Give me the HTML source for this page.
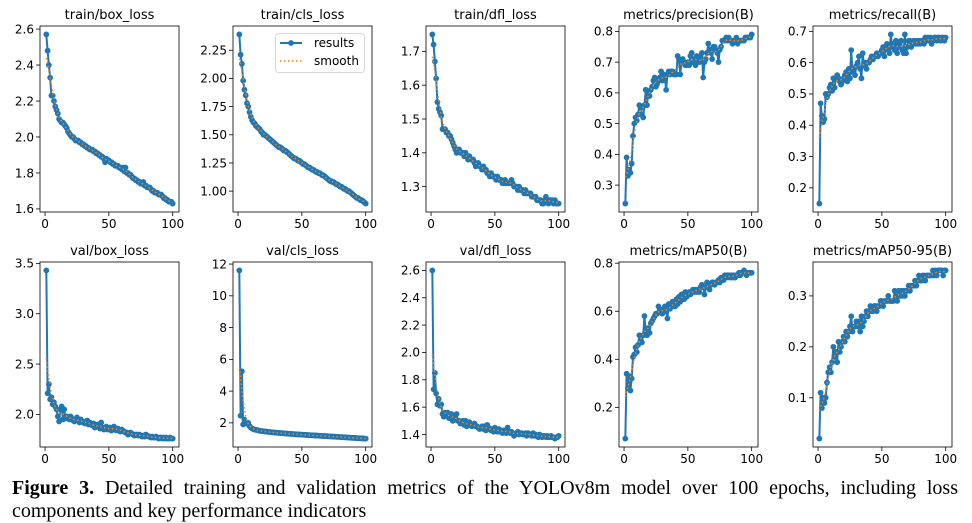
<!DOCTYPE html>
<html><head><meta charset="utf-8">
<style>
body{margin:0;background:#fff;width:972px;height:523px;overflow:hidden;position:relative}
svg{position:absolute;left:0;top:0}
#cap{position:absolute;left:12px;top:477px;width:946px;font-family:"Liberation Serif",serif;font-size:20px;line-height:23px;text-align:justify;text-align-last:left;color:#000}
</style></head><body>
<svg id="fig" width="972" height="470"></svg>
<div id="cap"><b>Figure 3.</b> Detailed training and validation metrics of the YOLOv8m model over 100 epochs, including loss components and key performance indicators</div>
<script>
const titles=["train/box_loss","train/cls_loss","train/dfl_loss","metrics/precision(B)","metrics/recall(B)","val/box_loss","val/cls_loss","val/dfl_loss","metrics/mAP50(B)","metrics/mAP50-95(B)"];
const trainBox=[2.57,2.48,2.40,2.33,2.23,2.23,2.20,2.17,2.15,2.13,2.10,2.09,2.08,2.08,2.07,2.06,2.05,2.03,2.02,2.01,2.00,2.00,1.99,1.98,1.98,1.98,1.97,1.97,1.96,1.96,1.95,1.95,1.94,1.94,1.93,1.93,1.93,1.92,1.92,1.91,1.91,1.90,1.90,1.89,1.89,1.88,1.86,1.88,1.87,1.87,1.86,1.86,1.85,1.85,1.84,1.84,1.84,1.83,1.83,1.82,1.83,1.81,1.83,1.80,1.80,1.79,1.79,1.78,1.77,1.77,1.76,1.76,1.75,1.75,1.74,1.74,1.75,1.73,1.73,1.72,1.72,1.72,1.71,1.70,1.70,1.69,1.69,1.69,1.68,1.68,1.68,1.67,1.66,1.66,1.65,1.65,1.64,1.64,1.64,1.63];
const trainCls=[2.39,2.21,2.13,1.98,1.90,1.85,1.78,1.75,1.70,1.66,1.63,1.61,1.60,1.58,1.57,1.56,1.55,1.53,1.52,1.50,1.50,1.49,1.48,1.47,1.46,1.45,1.44,1.43,1.42,1.41,1.40,1.39,1.39,1.38,1.37,1.36,1.36,1.35,1.34,1.33,1.32,1.31,1.30,1.29,1.29,1.28,1.27,1.27,1.26,1.25,1.24,1.24,1.23,1.22,1.21,1.21,1.20,1.19,1.19,1.18,1.17,1.17,1.16,1.16,1.15,1.14,1.14,1.13,1.12,1.11,1.10,1.09,1.09,1.08,1.08,1.07,1.06,1.06,1.05,1.04,1.04,1.03,1.02,1.02,1.01,1.00,1.00,0.99,0.98,0.97,0.96,0.95,0.94,0.94,0.93,0.92,0.92,0.91,0.90,0.89];
const trainDfl=[1.75,1.72,1.67,1.62,1.55,1.53,1.52,1.51,1.47,1.47,1.47,1.46,1.46,1.45,1.45,1.44,1.43,1.42,1.41,1.40,1.41,1.41,1.40,1.40,1.40,1.39,1.40,1.39,1.38,1.39,1.38,1.38,1.38,1.37,1.36,1.37,1.37,1.36,1.36,1.35,1.36,1.35,1.35,1.34,1.34,1.33,1.34,1.33,1.33,1.33,1.32,1.33,1.32,1.32,1.32,1.31,1.31,1.32,1.31,1.31,1.31,1.31,1.32,1.31,1.30,1.30,1.30,1.29,1.30,1.29,1.29,1.29,1.28,1.29,1.28,1.28,1.28,1.28,1.27,1.27,1.27,1.27,1.26,1.26,1.26,1.26,1.25,1.25,1.26,1.27,1.26,1.25,1.26,1.26,1.26,1.25,1.26,1.25,1.25,1.25];
const precision=[0.24,0.39,0.33,0.35,0.34,0.37,0.46,0.50,0.52,0.51,0.53,0.56,0.55,0.53,0.52,0.56,0.61,0.56,0.60,0.59,0.61,0.62,0.64,0.65,0.62,0.63,0.64,0.65,0.67,0.64,0.66,0.65,0.61,0.66,0.67,0.66,0.67,0.67,0.66,0.66,0.66,0.72,0.71,0.66,0.70,0.71,0.70,0.69,0.69,0.70,0.69,0.72,0.73,0.70,0.71,0.69,0.72,0.71,0.70,0.72,0.73,0.65,0.70,0.71,0.73,0.76,0.74,0.73,0.71,0.75,0.75,0.74,0.73,0.70,0.74,0.75,0.77,0.77,0.77,0.78,0.77,0.78,0.77,0.77,0.76,0.77,0.77,0.78,0.76,0.77,0.77,0.77,0.77,0.77,0.78,0.78,0.78,0.78,0.78,0.79];
const recall=[0.15,0.47,0.43,0.41,0.42,0.50,0.49,0.50,0.52,0.53,0.51,0.55,0.52,0.55,0.56,0.55,0.54,0.53,0.54,0.55,0.56,0.57,0.54,0.58,0.55,0.64,0.57,0.58,0.56,0.59,0.60,0.62,0.58,0.55,0.63,0.59,0.60,0.58,0.60,0.60,0.61,0.62,0.61,0.62,0.62,0.63,0.62,0.63,0.63,0.64,0.65,0.62,0.65,0.66,0.64,0.63,0.69,0.65,0.66,0.64,0.67,0.63,0.65,0.66,0.67,0.64,0.63,0.69,0.63,0.65,0.67,0.67,0.65,0.66,0.67,0.66,0.67,0.66,0.67,0.66,0.67,0.67,0.66,0.68,0.67,0.68,0.67,0.68,0.66,0.67,0.68,0.68,0.67,0.68,0.68,0.67,0.68,0.68,0.67,0.68];
const valBox=[3.43,2.21,2.30,2.15,2.17,2.10,2.12,2.08,2.05,1.98,1.93,2.05,2.08,1.95,2.05,1.96,1.98,1.97,1.95,1.98,1.96,1.94,1.93,1.95,1.97,1.94,1.92,1.95,1.93,1.92,1.91,1.93,1.94,1.90,1.92,1.90,1.89,1.91,1.87,1.88,1.90,1.88,1.86,1.92,1.87,1.85,1.86,1.88,1.85,1.86,1.87,1.84,1.85,1.88,1.86,1.84,1.86,1.85,1.83,1.85,1.84,1.83,1.82,1.82,1.80,1.81,1.82,1.81,1.80,1.79,1.80,1.80,1.79,1.80,1.79,1.78,1.79,1.78,1.80,1.79,1.78,1.78,1.77,1.78,1.77,1.77,1.78,1.77,1.76,1.77,1.77,1.76,1.77,1.76,1.77,1.76,1.76,1.77,1.76,1.76];
const valCls=[11.6,2.45,5.25,1.90,2.20,2.00,1.95,2.00,1.80,1.70,1.65,1.60,1.58,1.56,1.55,1.52,1.50,1.49,1.48,1.47,1.46,1.45,1.44,1.43,1.42,1.41,1.40,1.40,1.39,1.38,1.37,1.37,1.36,1.35,1.35,1.34,1.33,1.33,1.32,1.31,1.31,1.30,1.30,1.29,1.28,1.28,1.27,1.27,1.26,1.26,1.25,1.25,1.24,1.24,1.23,1.23,1.22,1.22,1.21,1.21,1.20,1.20,1.19,1.19,1.18,1.18,1.17,1.17,1.16,1.16,1.15,1.15,1.14,1.14,1.13,1.13,1.12,1.12,1.11,1.11,1.10,1.10,1.09,1.09,1.08,1.08,1.07,1.07,1.06,1.06,1.05,1.05,1.04,1.04,1.03,1.03,1.02,1.02,1.01,1.01];
const valDfl=[2.60,1.73,1.85,1.70,1.62,1.66,1.61,1.62,1.55,1.53,1.56,1.55,1.56,1.52,1.54,1.55,1.50,1.51,1.53,1.55,1.50,1.50,1.48,1.49,1.50,1.47,1.50,1.46,1.47,1.49,1.47,1.46,1.47,1.48,1.46,1.46,1.45,1.44,1.45,1.46,1.44,1.46,1.43,1.47,1.45,1.44,1.43,1.44,1.42,1.45,1.43,1.42,1.44,1.42,1.43,1.41,1.43,1.42,1.41,1.45,1.42,1.41,1.42,1.41,1.39,1.40,1.41,1.42,1.40,1.41,1.41,1.40,1.40,1.41,1.39,1.41,1.40,1.40,1.39,1.41,1.39,1.40,1.39,1.38,1.40,1.39,1.38,1.39,1.39,1.38,1.39,1.38,1.38,1.39,1.38,1.38,1.37,1.38,1.38,1.39];
const map50=[0.07,0.34,0.28,0.33,0.27,0.32,0.41,0.42,0.45,0.43,0.46,0.50,0.48,0.47,0.50,0.58,0.52,0.50,0.53,0.51,0.55,0.56,0.57,0.58,0.59,0.59,0.62,0.60,0.60,0.59,0.61,0.62,0.60,0.57,0.63,0.61,0.62,0.64,0.63,0.62,0.65,0.63,0.66,0.64,0.67,0.67,0.65,0.68,0.66,0.67,0.68,0.67,0.68,0.69,0.68,0.69,0.68,0.69,0.68,0.70,0.71,0.70,0.67,0.70,0.72,0.71,0.69,0.71,0.72,0.72,0.71,0.72,0.72,0.73,0.72,0.74,0.74,0.73,0.75,0.74,0.75,0.75,0.74,0.75,0.74,0.75,0.74,0.75,0.75,0.76,0.75,0.76,0.76,0.77,0.76,0.75,0.76,0.76,0.76,0.76];
const map5095=[0.02,0.11,0.08,0.10,0.09,0.10,0.13,0.15,0.16,0.15,0.17,0.20,0.18,0.19,0.17,0.21,0.19,0.20,0.21,0.22,0.21,0.23,0.22,0.23,0.24,0.26,0.23,0.24,0.24,0.25,0.24,0.25,0.23,0.26,0.24,0.25,0.26,0.27,0.26,0.27,0.28,0.27,0.27,0.28,0.28,0.27,0.28,0.28,0.29,0.29,0.28,0.29,0.29,0.29,0.30,0.29,0.29,0.29,0.29,0.31,0.30,0.29,0.31,0.30,0.31,0.30,0.31,0.30,0.31,0.31,0.32,0.31,0.32,0.32,0.32,0.33,0.32,0.33,0.34,0.33,0.33,0.34,0.34,0.33,0.34,0.34,0.34,0.34,0.34,0.35,0.34,0.35,0.34,0.35,0.35,0.35,0.35,0.34,0.35,0.35];
const seriesList=[trainBox,trainCls,trainDfl,precision,recall,valBox,valCls,valDfl,map50,map5095];
const yTicks=[[1.6,1.8,2.0,2.2,2.4,2.6],[1.00,1.25,1.50,1.75,2.00,2.25],[1.3,1.4,1.5,1.6,1.7],[0.3,0.4,0.5,0.6,0.7,0.8],[0.2,0.3,0.4,0.5,0.6,0.7],[2.0,2.5,3.0,3.5],[2,4,6,8,10,12],[1.4,1.6,1.8,2.0,2.2,2.4,2.6],[0.2,0.4,0.6,0.8],[0.1,0.2,0.3]];
const yTickDec=[1,2,1,1,1,1,0,1,1,1];
const xTicks=[0,50,100];

const NS="http://www.w3.org/2000/svg";
const svg=document.getElementById('fig');
function mk(tag,attrs,parent){const e=document.createElementNS(NS,tag);for(const k in attrs)e.setAttribute(k,attrs[k]);(parent||svg).appendChild(e);return e;}
const colL=[40,233,426,619,813], W=139;
const rowT=[26,262], H=[186,185];
const FONT='"DejaVu Sans","Liberation Sans",sans-serif';
function smooth(d){const out=[];const k=5;for(let i=0;i<d.length;i++){let s=0,w=0;for(let j=-k;j<=k;j++){const t=i+j;if(t<0||t>=d.length)continue;const g=Math.exp(-j*j/(2*2.5*2.5));s+=d[t]*g;w+=g;}out.push(s/w);}return out;}
seriesList.forEach((data,p)=>{
  const L=colL[p%5], T=rowT[Math.floor(p/5)], h=H[Math.floor(p/5)];
  const g=mk('g',{});
  
  
  const n=data.length;
  const xmin=1-(n-1)*0.05, xmax=n+(n-1)*0.05;
  const mn=Math.min(...data), mx=Math.max(...data), r=mx-mn;
  const ymin=mn-r*0.05, ymax=mx+r*0.05;
  const X=v=>L+(v-xmin)/(xmax-xmin)*W;
  const Y=v=>T+h-(v-ymin)/(ymax-ymin)*h;
  const tt=mk('text',{x:L+W/2,y:T-7,'text-anchor':'middle','font-family':FONT,'font-size':13,fill:'#000'},g);
  tt.textContent=titles[p];
  
  
  xTicks.forEach(v=>{const x=X(v);mk('line',{x1:x,x2:x,y1:T+h,y2:T+h+4,stroke:'#000','stroke-width':0.8},g);
    const t=mk('text',{x:x,y:T+h+16,'text-anchor':'middle','font-family':FONT,'font-size':12,fill:'#000'},g);t.textContent=v;
    
    });
  yTicks[p].forEach(v=>{const y=Y(v);if(y<T-1||y>T+h+1)return;mk('line',{x1:L-4,x2:L,y1:y,y2:y,stroke:'#000','stroke-width':0.8},g);
    const t=mk('text',{x:L-6,y:y+4.3,'text-anchor':'end','font-family':FONT,'font-size':12,fill:'#000'},g);t.textContent=v.toFixed(yTickDec[p]);
    
    });
  const pts=data.map((v,i)=>X(i+1).toFixed(2)+','+Y(v).toFixed(2)).join(' ');
  const pl=mk('polyline',{points:pts,fill:'none',stroke:'#1f77b4','stroke-width':2,'stroke-linejoin':'round'},g);
  
  
  data.forEach((v,i)=>{const c=mk('circle',{cx:X(i+1),cy:Y(v),r:2.9,fill:'#1f77b4'},g);
    
    });
  const sm=smooth(data);
  const sp=mk('polyline',{points:sm.map((v,i)=>X(i+1).toFixed(2)+','+Y(v).toFixed(2)).join(' '),fill:'none',stroke:'#ff7f0e','stroke-width':1.5,'stroke-dasharray':'1.5,2.5'},g);
  
  
  const fr=mk('rect',{x:L,y:T,width:W,height:h,fill:'none',stroke:'#000','stroke-width':0.8},g);
  
  
});
const lg=mk('g',{});


mk('rect',{x:275.5,y:33.5,width:89,height:39,rx:3,fill:'#fff','fill-opacity':0.8,stroke:'#ccc','stroke-width':0.8},lg);
mk('line',{x1:280,x2:302,y1:43,y2:43,stroke:'#1f77b4','stroke-width':2},lg);
mk('circle',{cx:291,cy:43,r:2.9,fill:'#1f77b4'},lg);
const l1=mk('text',{x:314,y:47,'font-family':FONT,'font-size':12,fill:'#000'},lg);l1.textContent='results';


mk('line',{x1:280,x2:302,y1:61,y2:61,stroke:'#ff7f0e','stroke-width':1.5,'stroke-dasharray':'1.5,2.5'},lg);
const l2=mk('text',{x:314,y:65,'font-family':FONT,'font-size':12,fill:'#000'},lg);l2.textContent='smooth';


</script>
</body></html>
